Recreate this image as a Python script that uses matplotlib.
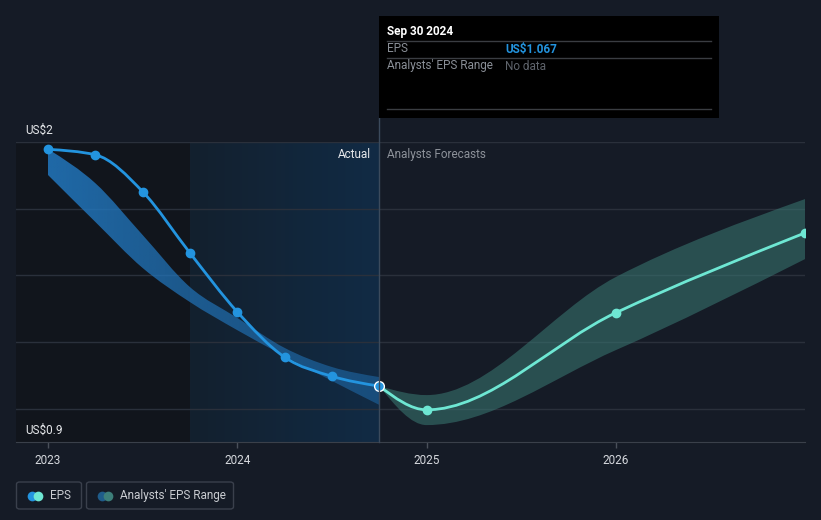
import numpy as np
import matplotlib
matplotlib.use('Agg')
import matplotlib.pyplot as plt
from matplotlib.path import Path
from matplotlib.patches import PathPatch, FancyBboxPatch, Rectangle
from matplotlib.lines import Line2D
import matplotlib.transforms as mtransforms

plt.rcParams['font.family'] = ['Roboto', 'DejaVu Sans']

# EPS history (quarterly, decimal years) and the analysts' range back then
actual_x = [2023.0, 2023.25, 2023.5, 2023.75, 2024.0, 2024.25, 2024.5, 2024.75]
actual_eps = [1.973, 1.953, 1.818, 1.593, 1.377, 1.211, 1.141, 1.105]
past_hi = [1.974, 1.849, 1.659, 1.468, 1.355, 1.245, 1.175, 1.138]
past_lo = [1.879, 1.707, 1.538, 1.413, 1.310, 1.215, 1.124, 1.036]

# forecast
fc_x = [2024.75, 2025.0, 2026.0, 2027.0]
fc_eps = [1.105, 1.018, 1.374, 1.667]
fc_hi = [1.105, 1.072, 1.505, 1.791]
fc_lo = [1.105, 0.962, 1.237, 1.571]

year_ticks = [2023, 2024, 2025, 2026]
y_min, y_max = 0.9, 2.0

BG = '#151b26'
BLUE = '#2394df'
TEAL = '#6ee7d3'
W, H = 821, 520


def fx(x):
    return x / W


def fy(y):
    return 1 - y / H


def monotone(xs, ys):
    # d3 curveMonotoneX as bezier segments
    xs = np.asarray(xs, float)
    ys = np.asarray(ys, float)
    n = len(xs)
    h = np.diff(xs)
    s = np.diff(ys) / h
    m = np.zeros(n)
    for i in range(1, n - 1):
        p = (s[i-1] * h[i] + s[i] * h[i-1]) / (h[i-1] + h[i])
        m[i] = (np.sign(s[i-1]) + np.sign(s[i])) * min(abs(s[i-1]), abs(s[i]), 0.5 * abs(p))
    if n > 2:
        m[0] = (3 * s[0] - m[1]) / 2
        m[-1] = (3 * s[-1] - m[-2]) / 2
    else:
        m[0] = m[-1] = s[0]
    verts = [(xs[0], ys[0])]
    codes = [Path.MOVETO]
    for i in range(n - 1):
        d = h[i] / 3
        verts += [(xs[i] + d, ys[i] + m[i] * d), (xs[i+1] - d, ys[i+1] - m[i+1] * d), (xs[i+1], ys[i+1])]
        codes += [Path.CURVE4] * 3
    return verts, codes


def band_path(xs, hi, lo):
    v1, c1 = monotone(xs, hi)
    v2, c2 = monotone(xs, lo)
    v2 = v2[::-1]
    verts = v1 + v2 + [v1[0]]
    codes = c1 + [Path.LINETO] + [Path.CURVE4] * (len(v2) - 1) + [Path.CLOSEPOLY]
    return Path(verts, codes)


fig = plt.figure(figsize=(W / 100, H / 100), dpi=100, facecolor=BG)
ax = fig.add_axes([fx(16), fy(442), fx(805) - fx(16), fy(142) - fy(442)])
ax.set_facecolor(BG)
x_lo, x_hi = 2023 + (16 - 48) / 189.3, 2023 + (805 - 48) / 189.3

# background regions
ax.axvspan(x_lo, 2023.75, color='#11151c', zorder=0, lw=0)
grad = np.zeros((1, 64, 4))
c0 = np.array([0x13, 0x20, 0x2e]) / 255
c1 = np.array([0x11, 0x2b, 0x45]) / 255
for i in range(64):
    t = i / 63
    grad[0, i, :3] = c0 * (1 - t) + c1 * t
    grad[0, i, 3] = 1
ax.imshow(grad, extent=[2023.75, 2024.75, y_min, y_max], aspect='auto', zorder=0.5, interpolation='bilinear')

# grid
for k in range(5):
    ax.axhline(y_max - k * 66.7 * (y_max - y_min) / 300, color='#2a303b', lw=1, zorder=1)

# past analysts' band with fading gradient
pb = PathPatch(band_path(actual_x, past_hi, past_lo), facecolor='none', edgecolor='none')
ax.add_patch(pb)
bgrad = np.zeros((1, 64, 4))
for i in range(64):
    t = i / 63
    bgrad[0, i, :3] = np.array([0x22, 0x78, 0xc0]) / 255
    bgrad[0, i, 3] = 0.85 - 0.4 * t
im = ax.imshow(bgrad, extent=[2023.0, 2024.75, y_min, y_max], aspect='auto', zorder=2, interpolation='bilinear')
im.set_clip_path(pb)

# forecast band
ax.add_patch(PathPatch(band_path(fc_x, fc_hi, fc_lo), facecolor='#3a7a74', alpha=0.55, edgecolor='none', zorder=2))

# lines
v, c = monotone(actual_x, actual_eps)
ax.add_patch(PathPatch(Path(v, c), fill=False, edgecolor=BLUE, lw=2, zorder=3, capstyle='round'))
v, c = monotone(fc_x, fc_eps)
ax.add_patch(PathPatch(Path(v, c), fill=False, edgecolor=TEAL, lw=2, zorder=3, capstyle='round'))
ax.plot(actual_x[:-1], actual_eps[:-1], 'o', color=BLUE, ms=6, zorder=4)
ax.plot(fc_x[1:], fc_eps[1:], 'o', color=TEAL, ms=6, zorder=4)
ax.plot(actual_x[-1:], actual_eps[-1:], 'o', color=BLUE, mec='white', mew=1, ms=7, zorder=5)

ax.set_xlim(x_lo, x_hi)
ax.set_ylim(y_min, y_max)
ax.set_xticks(year_ticks)
ax.set_xticklabels([str(t) for t in year_ticks])
ax.set_yticks([])
ax.tick_params(axis='x', colors='#4a505a', labelcolor='#d5d8dd', labelsize=8.5, length=4, width=1, pad=5)
for s in ['top', 'left', 'right']:
    ax.spines[s].set_visible(False)
ax.spines['bottom'].set_color('#3a404a')

# divider line at today
blend = mtransforms.blended_transform_factory(ax.transData, fig.transFigure)
fig.add_artist(Line2D([2024.75, 2024.75], [fy(442), fy(118)], transform=blend, color='#3b4a5c', lw=1, zorder=1))

ax.text(2024.75 - 8 / 189.3, fy(154), 'Actual', transform=blend, ha='right', va='center', color='#e6e8eb', fontsize=8.5)
ax.text(2024.75 + 8 / 189.3, fy(154), 'Analysts Forecasts', transform=blend, ha='left', va='center', color='#8d929a', fontsize=8.5)

# y labels
fig.text(fx(25), fy(130), 'US$2', color='#e6e8eb', fontsize=8.5, va='center')
fig.text(fx(25), fy(430), 'US$0.9', color='#e6e8eb', fontsize=8.5, va='center')

# tooltip
fig.add_artist(Rectangle((fx(379), fy(118)), fx(719) - fx(379), fy(16) - fy(118), transform=fig.transFigure,
                         facecolor='#000000', edgecolor='none', zorder=5))
for yy in [41, 58, 109]:
    fig.add_artist(Line2D([fx(387), fx(711)], [fy(yy), fy(yy)], transform=fig.transFigure, color='#3a3d42', lw=1, zorder=6))
fig.text(fx(387), fy(31), 'Sep 30 2024', color='white', fontsize=8.5, fontweight='bold', va='center', zorder=7)
fig.text(fx(387), fy(49), 'EPS', color='#8a8f97', fontsize=8.5, va='center', zorder=7)
fig.text(fx(505), fy(49), 'US$1.067', color=BLUE, fontsize=8.5, fontweight='bold', va='center', zorder=7)
fig.text(fx(387), fy(66), "Analysts' EPS Range", color='#8a8f97', fontsize=8.5, va='center', zorder=7)
fig.text(fx(505), fy(66), 'No data', color='#5f646c', fontsize=8.5, va='center', zorder=7)

# legend
legend_items = [
    (16.5, 81.5, BLUE, TEAL, 'EPS'),
    (86.5, 233.5, '#1f5c8a', '#3d7f7a', "Analysts' EPS Range"),
]
for x0, x1, ca, cb, label in legend_items:
    fig.add_artist(FancyBboxPatch((fx(x0), fy(509)), fx(x1) - fx(x0), fy(482) - fy(509),
                                  boxstyle='round,pad=0,rounding_size=0.004', transform=fig.transFigure,
                                  facecolor='none', edgecolor='#3a404c', lw=1))
    fig.add_artist(Line2D([fx(x0 + 15)], [fy(495.5)], transform=fig.transFigure, marker='o', ms=7, color=ca, mew=0))
    fig.add_artist(Line2D([fx(x0 + 21)], [fy(495.5)], transform=fig.transFigure, marker='o', ms=7, color=cb, mew=0))
    fig.text(fx(x0 + 33.5), fy(495.5), label, color='#c9ccd1', fontsize=8.5, va='center')

fig.savefig('out.png', dpi=100, facecolor=BG)
